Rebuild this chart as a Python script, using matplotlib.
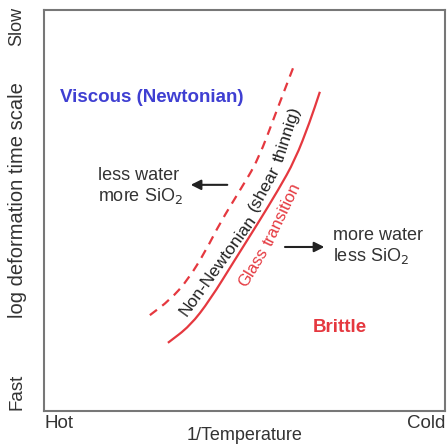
import numpy as np
import matplotlib.pyplot as plt
from matplotlib.path import Path
from matplotlib.patches import PathPatch
from matplotlib.font_manager import FontProperties
from matplotlib.transforms import IdentityTransform

plt.rcParams['font.family'] = ['Liberation Sans', 'DejaVu Sans']

# boundary curves (x = 1/T, y = log time scale), both axes scaled 0..1
shear_x = [0.264, 0.314, 0.359, 0.404, 0.439, 0.489, 0.534, 0.581, 0.626]
shear_y = [0.239, 0.277, 0.327, 0.401, 0.469, 0.551, 0.626, 0.751, 0.868]
glass_x = [0.309, 0.364, 0.414, 0.476, 0.534, 0.584, 0.626, 0.663, 0.688]
glass_y = [0.170, 0.212, 0.277, 0.377, 0.469, 0.551, 0.626, 0.721, 0.796]

red = '#e5383f'
blue = '#3f3fd2'
grey = '#333333'

fig = plt.figure(figsize=(4.48, 4.46), dpi=100)
ax = fig.add_axes([44/448, 35/446, 401/448, 401/446])
ax.set_xlim(0, 1)
ax.set_ylim(0, 1)
ax.set_xticks([])
ax.set_yticks([])
for s in ax.spines.values():
    s.set_color('#777777')
    s.set_linewidth(1.5)


def smooth_path(xs, ys):
    # quadratic bezier through the midpoints, read points act as controls
    p = np.column_stack([xs, ys])
    verts = [p[0], (p[0] + p[1]) / 2]
    codes = [Path.MOVETO, Path.LINETO]
    for i in range(1, len(p) - 1):
        verts += [p[i], (p[i] + p[i + 1]) / 2]
        codes += [Path.CURVE3, Path.CURVE3]
    verts.append(p[-1])
    codes.append(Path.LINETO)
    return Path(verts, codes)


ax.add_patch(PathPatch(smooth_path(shear_x, shear_y), fill=False,
                       edgecolor=red, lw=1.6, ls=(0, (4, 3))))
ax.add_patch(PathPatch(smooth_path(glass_x, glass_y), fill=False,
                       edgecolor=red, lw=1.6))


def bent_label(words, gx, gy, size, color):
    # lay words one after another along a guide line, each turned to
    # the local direction of the guide
    r = fig.canvas.get_renderer()
    prop = FontProperties(family=['Liberation Sans', 'DejaVu Sans'], size=size)
    pts = ax.transData.transform(np.column_stack([gx, gy]))
    seg = np.diff(pts, axis=0)
    seglen = np.hypot(seg[:, 0], seg[:, 1])
    cum = np.concatenate([[0], np.cumsum(seglen)])
    px = size * fig.dpi / 72
    s = 0.0
    for w in words:
        width = r.get_text_width_height_descent(w, prop, ismath=False)[0]
        mid = s + width / 2
        i = min(np.searchsorted(cum, mid, side='right') - 1, len(seg) - 1)
        d = seg[i] / seglen[i]
        p = pts[i] + (mid - cum[i]) * d
        normal = np.array([-d[1], d[0]])
        base = p - normal * px * 0.36
        ang = np.degrees(np.arctan2(d[1], d[0]))
        ax.text(base[0], base[1], w, transform=IdentityTransform(),
                fontproperties=prop, color=color, rotation=ang,
                rotation_mode='anchor', ha='center', va='baseline')
        s += width + 0.3 * px


ax.text(0.04, 0.783, 'Viscous (Newtonian)', color=blue, fontsize=13.5,
        fontweight='bold', va='center', ha='left')
ax.text(0.671, 0.207, 'Brittle', color=red, fontsize=13.5,
        fontweight='bold', va='center', ha='left')

ax.text(0.135, 0.559, 'less water\nmore SiO$_2$', color=grey, fontsize=13,
        va='center', ha='left', linespacing=1.15)
ax.annotate('', xy=(0.359, 0.564), xytext=(0.464, 0.564),
            arrowprops=dict(arrowstyle='-|>', color='#222222', lw=1.5,
                            mutation_scale=15))
ax.text(0.721, 0.411, 'more water\nless SiO$_2$', color=grey, fontsize=13,
        va='center', ha='left', linespacing=1.15)
ax.annotate('', xy=(0.706, 0.409), xytext=(0.594, 0.409),
            arrowprops=dict(arrowstyle='-|>', color='#222222', lw=1.5,
                            mutation_scale=15))

# curve labels follow guides running between / beside the two lines
bent_label(['Non-Newtonian', '(shear', 'thinnig)'],
           [0.333, 0.380, 0.434, 0.489, 0.539, 0.583, 0.622, 0.657],
           [0.252, 0.297, 0.372, 0.464, 0.546, 0.626, 0.746, 0.860],
           12.5, '#222222')
bent_label(['Glass', 'transition'],
           [0.492, 0.544, 0.589, 0.628, 0.653],
           [0.315, 0.401, 0.489, 0.571, 0.626],
           12, red)

# axis labels
ax.text(-0.067, 0.526, 'log deformation time scale', color=grey,
        fontsize=14.5, rotation=90, ha='center', va='center',
        transform=ax.transAxes)
ax.text(-0.067, 0.958, 'Slow', color=grey, fontsize=13, rotation=90,
        ha='center', va='center', transform=ax.transAxes)
ax.text(-0.067, 0.047, 'Fast', color=grey, fontsize=13.5, rotation=90,
        ha='center', va='center', transform=ax.transAxes)
ax.text(0.0, -0.030, 'Hot', color=grey, fontsize=13.5, ha='left',
        va='center', transform=ax.transAxes)
ax.text(1.0, -0.030, 'Cold', color=grey, fontsize=13.5, ha='right',
        va='center', transform=ax.transAxes)
ax.text(0.5, -0.062, '1/Temperature', color=grey, fontsize=13,
        ha='center', va='center', transform=ax.transAxes)

fig.savefig('out.png', dpi=100)
